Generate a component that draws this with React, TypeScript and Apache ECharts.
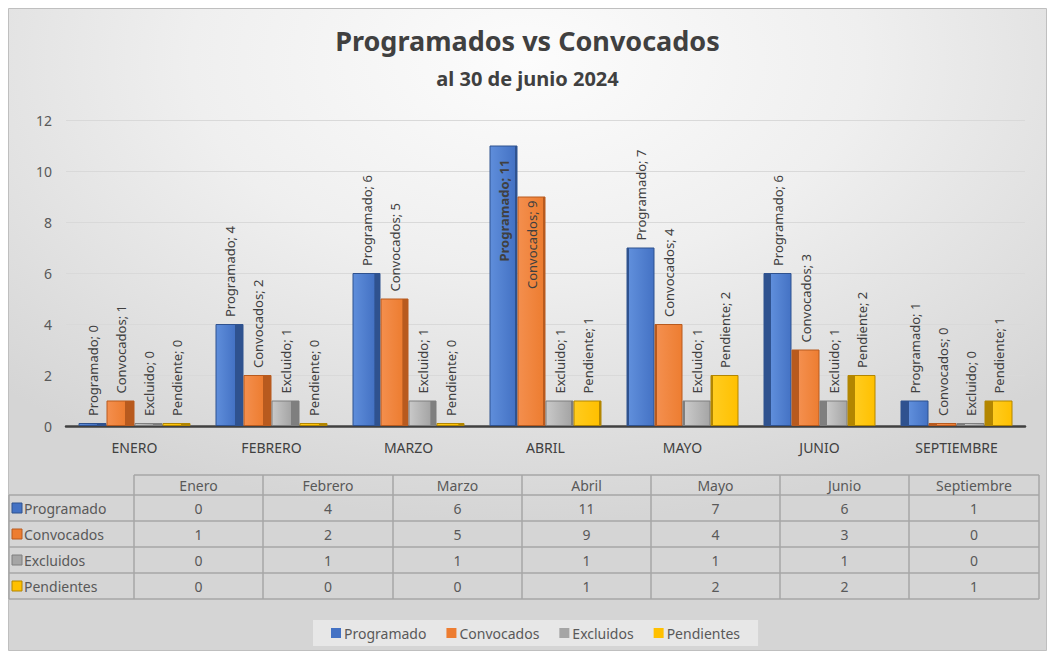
import React, { useEffect, useRef } from "react";
import * as echarts from "echarts";

const categories = ["ENERO", "FEBRERO", "MARZO", "ABRIL", "MAYO", "JUNIO", "SEPTIEMBRE"];
const tableMonths = ["Enero", "Febrero", "Marzo", "Abril", "Mayo", "Junio", "Septiembre"];
const seriesNames = ["Programado", "Convocados", "Excluidos", "Pendientes"];
const labelNames = ["Programado", "Convocados", "Excluido", "Pendiente"];
const programado = [0, 4, 6, 11, 7, 6, 1];
const convocados = [1, 2, 5, 9, 4, 3, 0];
const excluidos = [0, 1, 1, 1, 1, 1, 0];
const pendientes = [0, 0, 0, 1, 2, 2, 1];
const yMax = 12;
const yInterval = 2;

const titleText = "Programados vs Convocados";
const subtitleText = "al 30 de junio 2024";

const baseColors = ["#4472C4", "#ED7D31", "#A5A5A5", "#FFC000"];
const lightColors = ["#5F8EDB", "#F48F4E", "#C9C9C9", "#FFCC1F"];
const darkColors = ["#2F528F", "#B85A1E", "#7F7F7F", "#B38600"];
const sideFrac = [0.32, 0.28, 0.2, 0.06, 0.08, 0.25, 0.3];

const W = 1039;
const H = 643;

export default function App() {
  const ref = useRef<HTMLDivElement>(null);
  useEffect(() => {
    if (!ref.current) return;
    const chart = echarts.init(ref.current, null, { renderer: "svg" });
    const allValues = [programado, convocados, excluidos, pendientes];

    const fillFor = (s: number, i: number) => {
      const f = sideFrac[i];
      const rightSide = i <= 3;
      const stops = rightSide
        ? [
            { offset: 0, color: lightColors[s] },
            { offset: 1 - f - 0.01, color: baseColors[s] },
            { offset: 1 - f, color: darkColors[s] },
            { offset: 1, color: darkColors[s] },
          ]
        : [
            { offset: 0, color: darkColors[s] },
            { offset: f, color: darkColors[s] },
            { offset: f + 0.01, color: lightColors[s] },
            { offset: 1, color: baseColors[s] },
          ];
      return { type: "linear", x: 0, y: 0, x2: 1, y2: 0, colorStops: stops };
    };

    const insideLabels: Record<string, any> = {
      "0-3": { position: "insideTop", align: "right", distance: 14, fontWeight: "bold" },
      "1-3": { position: "insideTop", align: "right", distance: 4 },
    };

    const series = allValues.map((vals, s) => ({
      name: seriesNames[s],
      type: "bar",
      barWidth: 28,
      barGap: "0%",
      barMinHeight: 3,
      data: vals.map((v, i) => {
        const item: any = {
          value: v,
          itemStyle: { color: fillFor(s, i), borderColor: darkColors[s], borderWidth: 1 },
        };
        const ov = insideLabels[`${s}-${i}`];
        if (ov) item.label = ov;
        return item;
      }),
      label: {
        show: true,
        position: "top",
        rotate: 90,
        align: "left",
        verticalAlign: "middle",
        distance: 7,
        fontFamily: "Noto Sans",
        fontSize: 13,
        color: "#404040",
        formatter: (p: any) => `${labelNames[s]}; ${p.value}`,
      },
    }));

    // data table
    const colX = [126, 255, 385, 514, 643, 772, 901, 1031];
    const rowY = [467, 487, 513, 539, 565, 591];
    const lineColor = "#A6A6A6";
    const tbl: any[] = [];
    tbl.push({ type: "line", shape: { x1: colX[0], y1: rowY[0], x2: colX[7], y2: rowY[0] }, style: { stroke: lineColor, lineWidth: 1.5 } });
    for (let r = 1; r < rowY.length; r++) {
      tbl.push({ type: "line", shape: { x1: 1, y1: rowY[r], x2: colX[7], y2: rowY[r] }, style: { stroke: lineColor, lineWidth: 1.5 } });
    }
    tbl.push({ type: "line", shape: { x1: 1, y1: rowY[1], x2: 1, y2: rowY[5] }, style: { stroke: lineColor, lineWidth: 1.5 } });
    colX.forEach((x) => {
      tbl.push({ type: "line", shape: { x1: x, y1: rowY[0], x2: x, y2: rowY[5] }, style: { stroke: lineColor, lineWidth: 1.5 } });
    });
    const txtStyle = { fontFamily: "Noto Sans", fontSize: 14, fill: "#595959", align: "center", verticalAlign: "middle" };
    tableMonths.forEach((m, c) => {
      tbl.push({ type: "text", x: (colX[c] + colX[c + 1]) / 2, y: (rowY[0] + rowY[1]) / 2, style: { ...txtStyle, text: m } });
    });
    allValues.forEach((vals, s) => {
      const cy = (rowY[s + 1] + rowY[s + 2]) / 2;
      tbl.push({ type: "rect", shape: { x: 4, y: cy - 5, width: 10, height: 10 }, style: { fill: baseColors[s], stroke: darkColors[s], lineWidth: 1 } });
      tbl.push({ type: "text", x: 16, y: cy, style: { ...txtStyle, align: "left", text: seriesNames[s] } });
      vals.forEach((v, c) => {
        tbl.push({ type: "text", x: (colX[c] + colX[c + 1]) / 2, y: cy, style: { ...txtStyle, text: String(v) } });
      });
    });

    const option: any = {
      animation: false,
      color: baseColors,
      title: [
        {
          text: titleText,
          left: "center",
          top: 14,
          textStyle: { fontFamily: "Noto Sans", fontSize: 27, fontWeight: "bold", color: "#404040" },
        },
        {
          text: subtitleText,
          left: "center",
          top: 55,
          textStyle: { fontFamily: "Noto Sans", fontSize: 20, fontWeight: "bold", color: "#404040" },
        },
      ],
      legend: {
        data: seriesNames,
        left: 305,
        top: 612,
        padding: [6, 18],
        itemGap: 20,
        itemWidth: 10,
        itemHeight: 10,
        icon: "rect",
        backgroundColor: "rgba(238,238,238,0.7)",
        textStyle: { fontFamily: "Noto Sans", fontSize: 14, color: "#595959", padding: [0, 0, 0, -2] },
      },
      grid: { left: 58, right: 22, top: 112, bottom: H - 418 },
      xAxis: {
        type: "category",
        data: categories,
        axisTick: { show: false },
        axisLine: { lineStyle: { color: "#404040", width: 2.5 } },
        axisLabel: { color: "#404040", fontFamily: "Noto Sans", fontSize: 14, margin: 14 },
      },
      yAxis: {
        type: "value",
        min: 0,
        max: yMax,
        interval: yInterval,
        axisLine: { show: false },
        axisTick: { show: false },
        axisLabel: { color: "#595959", fontFamily: "Noto Sans", fontSize: 14, margin: 14 },
        splitLine: { lineStyle: { color: "#D9D9D9", width: 1 } },
      },
      graphic: [
        {
          type: "rect",
          z: -10,
          silent: true,
          shape: { x: 0.5, y: 0.5, width: W - 1, height: H - 1 },
          style: {
            fill: {
              type: "radial",
              x: 0.5,
              y: 0.08,
              r: 0.72,
              colorStops: [
                { offset: 0, color: "#FCFCFC" },
                { offset: 0.45, color: "#EFEFEF" },
                { offset: 1, color: "#D5D5D5" },
              ],
            },
            stroke: "#BFBFBF",
            lineWidth: 1,
          },
        },
        { type: "group", z: 5, children: tbl },
      ],
      series,
    };
    chart.setOption(option);
    return () => chart.dispose();
  }, []);
  return <div ref={ref} style={{ width: W, height: H }} />;
}
